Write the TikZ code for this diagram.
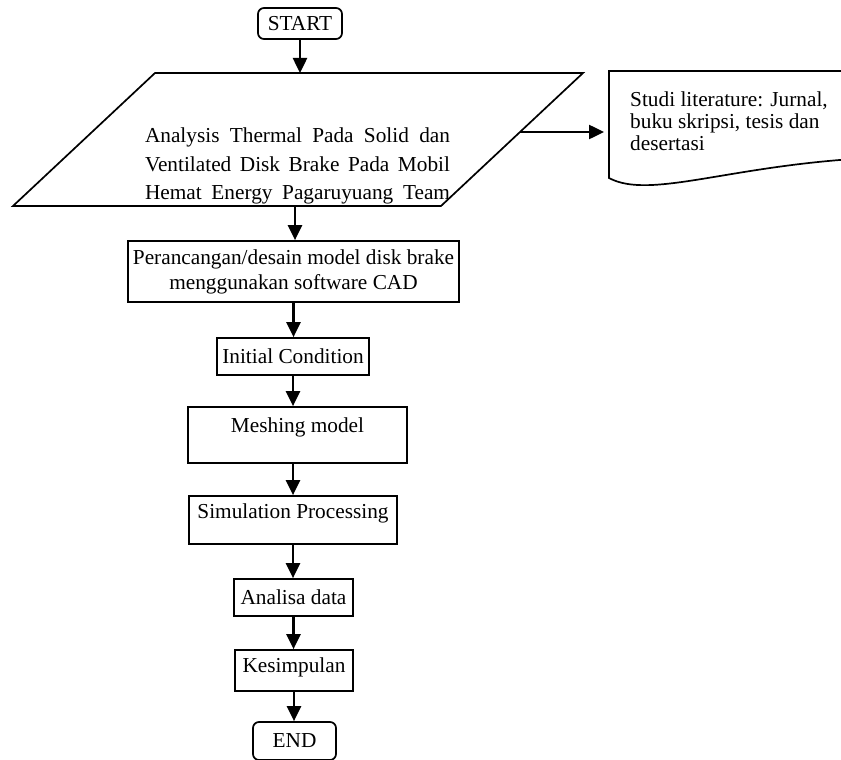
\documentclass[tikz,border=0pt]{standalone}
\usepackage{fontspec}
\setmainfont{Liberation Serif}
\usepackage{tikz}
\usetikzlibrary{arrows.meta}

\begin{document}
\begin{tikzpicture}[x=1pt,y=-1pt,
    font=\fontsize{21.3}{25}\selectfont,
    box/.style={draw,line width=1.7pt,inner sep=0pt,align=center},
    term/.style={box,rounded corners=6pt},
    upper/.style={text height=15pt,text depth=#1},
    arr/.style={line width=2.5pt,-{Triangle[length=15pt,width=14pt]}}]
  \useasboundingbox (0,0) rectangle (841,760);

  \node[term,minimum width=84pt,minimum height=31pt] (start) at (300,23.5) {START};

  % input
  \coordinate (pa) at (155,73);
  \coordinate (pb) at (583,73);
  \coordinate (pc) at (441,206);
  \coordinate (pd) at (13,206);
  \draw[line width=1.7pt] (pa) -- (pb) -- (pc) -- (pd) -- cycle;
  \node[align=center,inner sep=0pt,font=\fontsize{21.3}{28.5}\selectfont] (judul) at (297.5,166)
    {\makebox[305pt][s]{Analysis Thermal Pada Solid dan}\\
     \makebox[305pt][s]{Ventilated Disk Brake Pada Mobil}\\
     \makebox[305pt][s]{Hemat Energy Pagaruyuang Team}};

  % dokumen
  \begin{scope}
    \clip (0,0) rectangle (841,760);
    \draw[line width=1.7pt] (870,71) -- (609,71) -- (609,178)
      .. controls (650,200) and (730,165) .. (870,158);
  \end{scope}
  \node[anchor=north west,align=left,inner sep=0pt,font=\fontsize{21.3}{22}\selectfont] (studi) at (630,92)
    {Studi literature: Jurnal,\\buku skripsi, tesis dan\\desertasi};

  \node[box,minimum width=331pt,minimum height=61pt] (desain) at (293.5,271.5)
    {Perancangan/desain model disk brake\\menggunakan software CAD};
  \node[box,minimum width=152pt,minimum height=37pt] (kondisi) at (293,356.5) {Initial Condition};
  \node[box,upper=20.6pt,minimum width=219pt,minimum height=56pt] (mesh) at (297.5,435) {Meshing model};
  \node[box,upper=18.6pt,minimum width=208pt,minimum height=48pt] (sim) at (293,520) {Simulation Processing};
  \node[box,minimum width=119pt,minimum height=37pt] (analisa) at (293.5,597.5) {Analisa data};
  \node[box,upper=11pt,minimum width=118pt,minimum height=41pt] (simpul) at (294,670.5) {Kesimpulan};
  \node[term,minimum width=83pt,minimum height=38pt] (end) at (294.5,741) {END};

  \coordinate (pr) at (520,132);
  \coordinate (docin) at (604,132);
  \coordinate (pbot) at (295,206);

  \draw[arr] (start) -- (start |- pa);
  \draw[arr] (pr) -- (docin);
  \draw[arr] (pbot) -- (pbot |- desain.north);
  \draw[arr] (desain.south) -- (desain.south |- kondisi.north);
  \draw[arr] (kondisi.south) -- (kondisi.south |- mesh.north);
  \draw[arr] (sim.north |- mesh.south) -- (sim.north);
  \draw[arr] (sim.south) -- (sim.south |- analisa.north);
  \draw[arr] (analisa.south) -- (analisa.south |- simpul.north);
  \draw[arr] (simpul.south) -- (simpul.south |- end.north);
\end{tikzpicture}
\end{document}
